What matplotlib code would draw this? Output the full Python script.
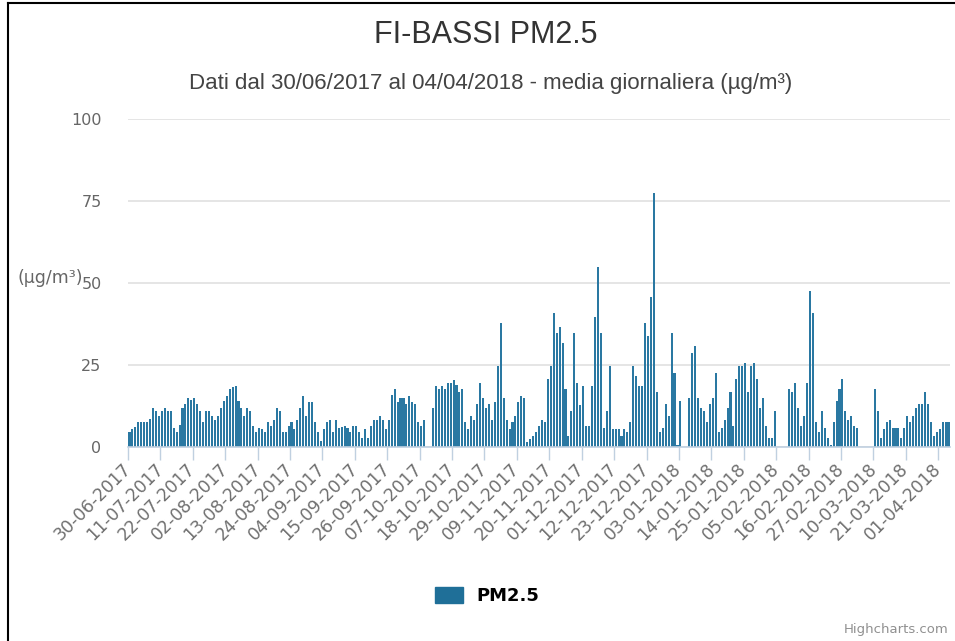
"""
FI-BASSI PM2.5 - daily mean concentration, 30/06/2017 - 04/04/2018.
Column chart, one bar per day (gaps = missing data).
"""

import numpy as np
import pandas as pd
import matplotlib
matplotlib.use("Agg")
import matplotlib.pyplot as plt
from matplotlib.lines import Line2D

nan = np.nan

# ── Data: daily means (µg/m³), one list per month ────────────────────
PM25_JUN = [4.5]
PM25_JUL = [5.4, 6.2, 7.5, 7.5, 7.5, 7.5, 8.5, 12, 11, 9.5, 11, 12, 11, 11, 5.7,
            4.5, 6.7, 12, 13, 14.8, 14.3, 14.8, 13, 11, 7.5, 11, 11, 9.5, 8.3,
            9.5, 12]
PM25_AUG = [14, 15.6, 17.6, 18.2, 18.6, 14, 12, 9.5, 12, 10.9, 6.5, 4.5, 5.7,
            5.5, 4.5, 7.5, 6.5, 8.3, 12, 10.9, 4.5, 4.5, 6.5, 7.5, 5.5, 8.3, 12,
            15.6, 9.5, 13.8, 13.8]
PM25_SEP = [7.5, 4.5, 1.8, 5.5, 7.5, 8.3, 4.5, 8.3, 5.7, 6.2, 6.5, 5.7, 4.5,
            6.5, 6.5, 4.5, 2.8, 5.5, 2.8, 6.5, 8.3, 8.3, 9.5, 8.3, 5.5, 8.3,
            15.8, 17.6, 13.8, 14.8]
PM25_OCT = [14.8, 13, 15.6, 13.8, 13, 7.5, 6.5, 8.3, nan, nan, 12, 18.6, 17.6,
            18.6, 17.6, 19.4, 19.4, 20.4, 19, 16.8, 17.6, 7.5, 5.5, 9.5, 8.3,
            13, 19.6, 14.8, 12, 13, 8.3]
PM25_NOV = [13.8, 24.8, 37.7, 14.8, 8.3, 5.5, 7.5, 9.5, 13.8, 15.6, 14.8, 1.6,
            2.5, 3.5, 4.5, 6.5, 8.3, 7.5, 20.6, 24.8, 40.8, 34.9, 36.7, 31.8,
            17.8, 3.5, 10.9, 34.9, 19.6, 12.8]
PM25_DEC = [18.6, 6.5, 6.5, 18.6, 39.7, 55, 34.9, 5.7, 10.9, 24.8, 5.5, 5.5,
            5.5, 3.5, 5.5, 4.5, 7.5, 24.8, 21.6, 18.6, 18.6, 37.7, 33.9, 45.6,
            77.5, 16.8, 4.5, 5.7, 13, 9.5, 34.9]
PM25_JAN = [22.7, 0.5, 14, nan, nan, 14.8, 28.6, 30.8, 14.8, 12, 10.9, 7.5, 13,
            14.8, 22.7, 4.5, 5.7, 8.3, 12, 16.8, 6.5, 20.6, 24.8, 24.8, 25.5,
            16.8, 24.8, 25.5, 20.6, 12, 14.8]
PM25_FEB = [6.5, 2.6, 2.6, 10.9, nan, nan, nan, nan, 17.8, 16.8, 19.6, 12, 6.5,
            9.5, 19.6, 47.6, 40.8, 7.5, 4.5, 10.9, 5.7, 2.8, 0.6, 7.5, 14.1,
            17.8, 20.6, 10.9]
PM25_MAR = [8.3, 9.5, 6.5, 5.7, nan, nan, nan, nan, nan, 17.8, 10.9, 2.8, 5.5,
            7.5, 8.3, 5.7, 5.7, 5.7, 2.6, 5.7, 9.5, 7.5, 9.5, 12, 13, 13, 16.8,
            13, 7.5, 3.5, 4.5]
PM25_APR = [5.5, 7.5, 7.5, 7.5]

DATE_START, DATE_END = "2017-06-30", "2018-04-04"
TICK_EVERY = 11
Y_TICKS = [0, 25, 50, 75, 100]

TITLE = "FI-BASSI PM2.5"
SUBTITLE = "Dati dal 30/06/2017 al 04/04/2018 - media giornaliera (µg/m³)"
Y_LABEL = "(µg/m³)"
SERIES = "PM2.5"
CREDITS = "Highcharts.com"

# ── Style ─────────────────────────────────────────────────────────────
W, H = 955, 641
BAR_COLOR = "#2a78a2"
LEGEND_COLOR = "#1f6f98"
GRID_COLOR = "#e3e3e3"
AXIS_COLOR = "#c0d0e0"
TEXT_GREY = "#666666"
HEAD_FONT = ["Liberation Sans", "DejaVu Sans"]


def main():
    days = pd.date_range(DATE_START, DATE_END, freq="D")
    values = np.array(PM25_JUN + PM25_JUL + PM25_AUG + PM25_SEP + PM25_OCT
                      + PM25_NOV + PM25_DEC + PM25_JAN + PM25_FEB + PM25_MAR
                      + PM25_APR, dtype=float)
    assert len(values) == len(days)
    x = np.arange(len(days))

    fig = plt.figure(figsize=(W / 100, H / 100), dpi=100)
    fig.patch.set_facecolor("white")

    # plot area in pixels: left 128, right 950, top 119, bottom 447
    ax = fig.add_axes([128 / W, 1 - 447 / H, 822 / W, 328 / H])
    ax.bar(x, np.nan_to_num(values), width=0.7, color=BAR_COLOR,
           linewidth=0, zorder=3)

    ax.set_xlim(-0.5, len(days) - 0.5)
    ax.set_ylim(0, 100)

    # y axis: gridlines only
    ax.set_yticks(Y_TICKS)
    ax.yaxis.grid(True, color=GRID_COLOR, linewidth=1.3, zorder=0)
    ax.tick_params(axis="y", length=0, pad=19, labelsize=11.5,
                   labelcolor=TEXT_GREY)
    for s in ("left", "right", "top"):
        ax.spines[s].set_visible(False)
    ax.spines["bottom"].set_color(AXIS_COLOR)
    ax.spines["bottom"].set_linewidth(1.2)
    ax.spines["bottom"].set_zorder(4)

    # x axis: tick every 11 days, on the category boundary
    tick_idx = x[::TICK_EVERY]
    ax.set_xticks(tick_idx - 0.5)
    ax.set_xticklabels(days[tick_idx].strftime("%d-%m-%Y"), rotation=45,
                       ha="right", va="center", rotation_mode="anchor")
    ax.tick_params(axis="x", length=9, width=1, color=AXIS_COLOR, pad=5,
                   labelsize=12.5, labelcolor="#707070")

    # ── Texts ─────────────────────────────────────────────────────────
    fig.text(486 / W, 1 - 35 / H, TITLE, ha="center", va="center",
             fontsize=22, color="#333333", family=HEAD_FONT)
    fig.text(491 / W, 1 - 83 / H, SUBTITLE, ha="center", va="center",
             fontsize=16, color="#444444", family=HEAD_FONT)
    fig.text(17 / W, 1 - 278 / H, Y_LABEL, ha="left", va="center",
             fontsize=12.5, color=TEXT_GREY)
    fig.text(948 / W, 1 - 630 / H, CREDITS, ha="right", va="center",
             fontsize=9.5, color="#909090")

    handle = plt.Rectangle((0, 0), 1, 1, color=LEGEND_COLOR)
    fig.legend([handle], [SERIES], loc="center",
               bbox_to_anchor=(487 / W, 1 - 596 / H),
               frameon=False, handlelength=1.55, handleheight=1.0,
               handletextpad=0.7, prop={"weight": "bold", "size": 13})

    # outer frame (left and top edges)
    fig.add_artist(Line2D([8 / W, 8 / W], [0, 1 - 3 / H], color="black",
                          linewidth=1.5, transform=fig.transFigure))
    fig.add_artist(Line2D([8 / W, 1], [1 - 3 / H, 1 - 3 / H], color="black",
                          linewidth=1.5, transform=fig.transFigure))

    fig.savefig("out.png", dpi=100)
    plt.close(fig)


if __name__ == "__main__":
    main()
